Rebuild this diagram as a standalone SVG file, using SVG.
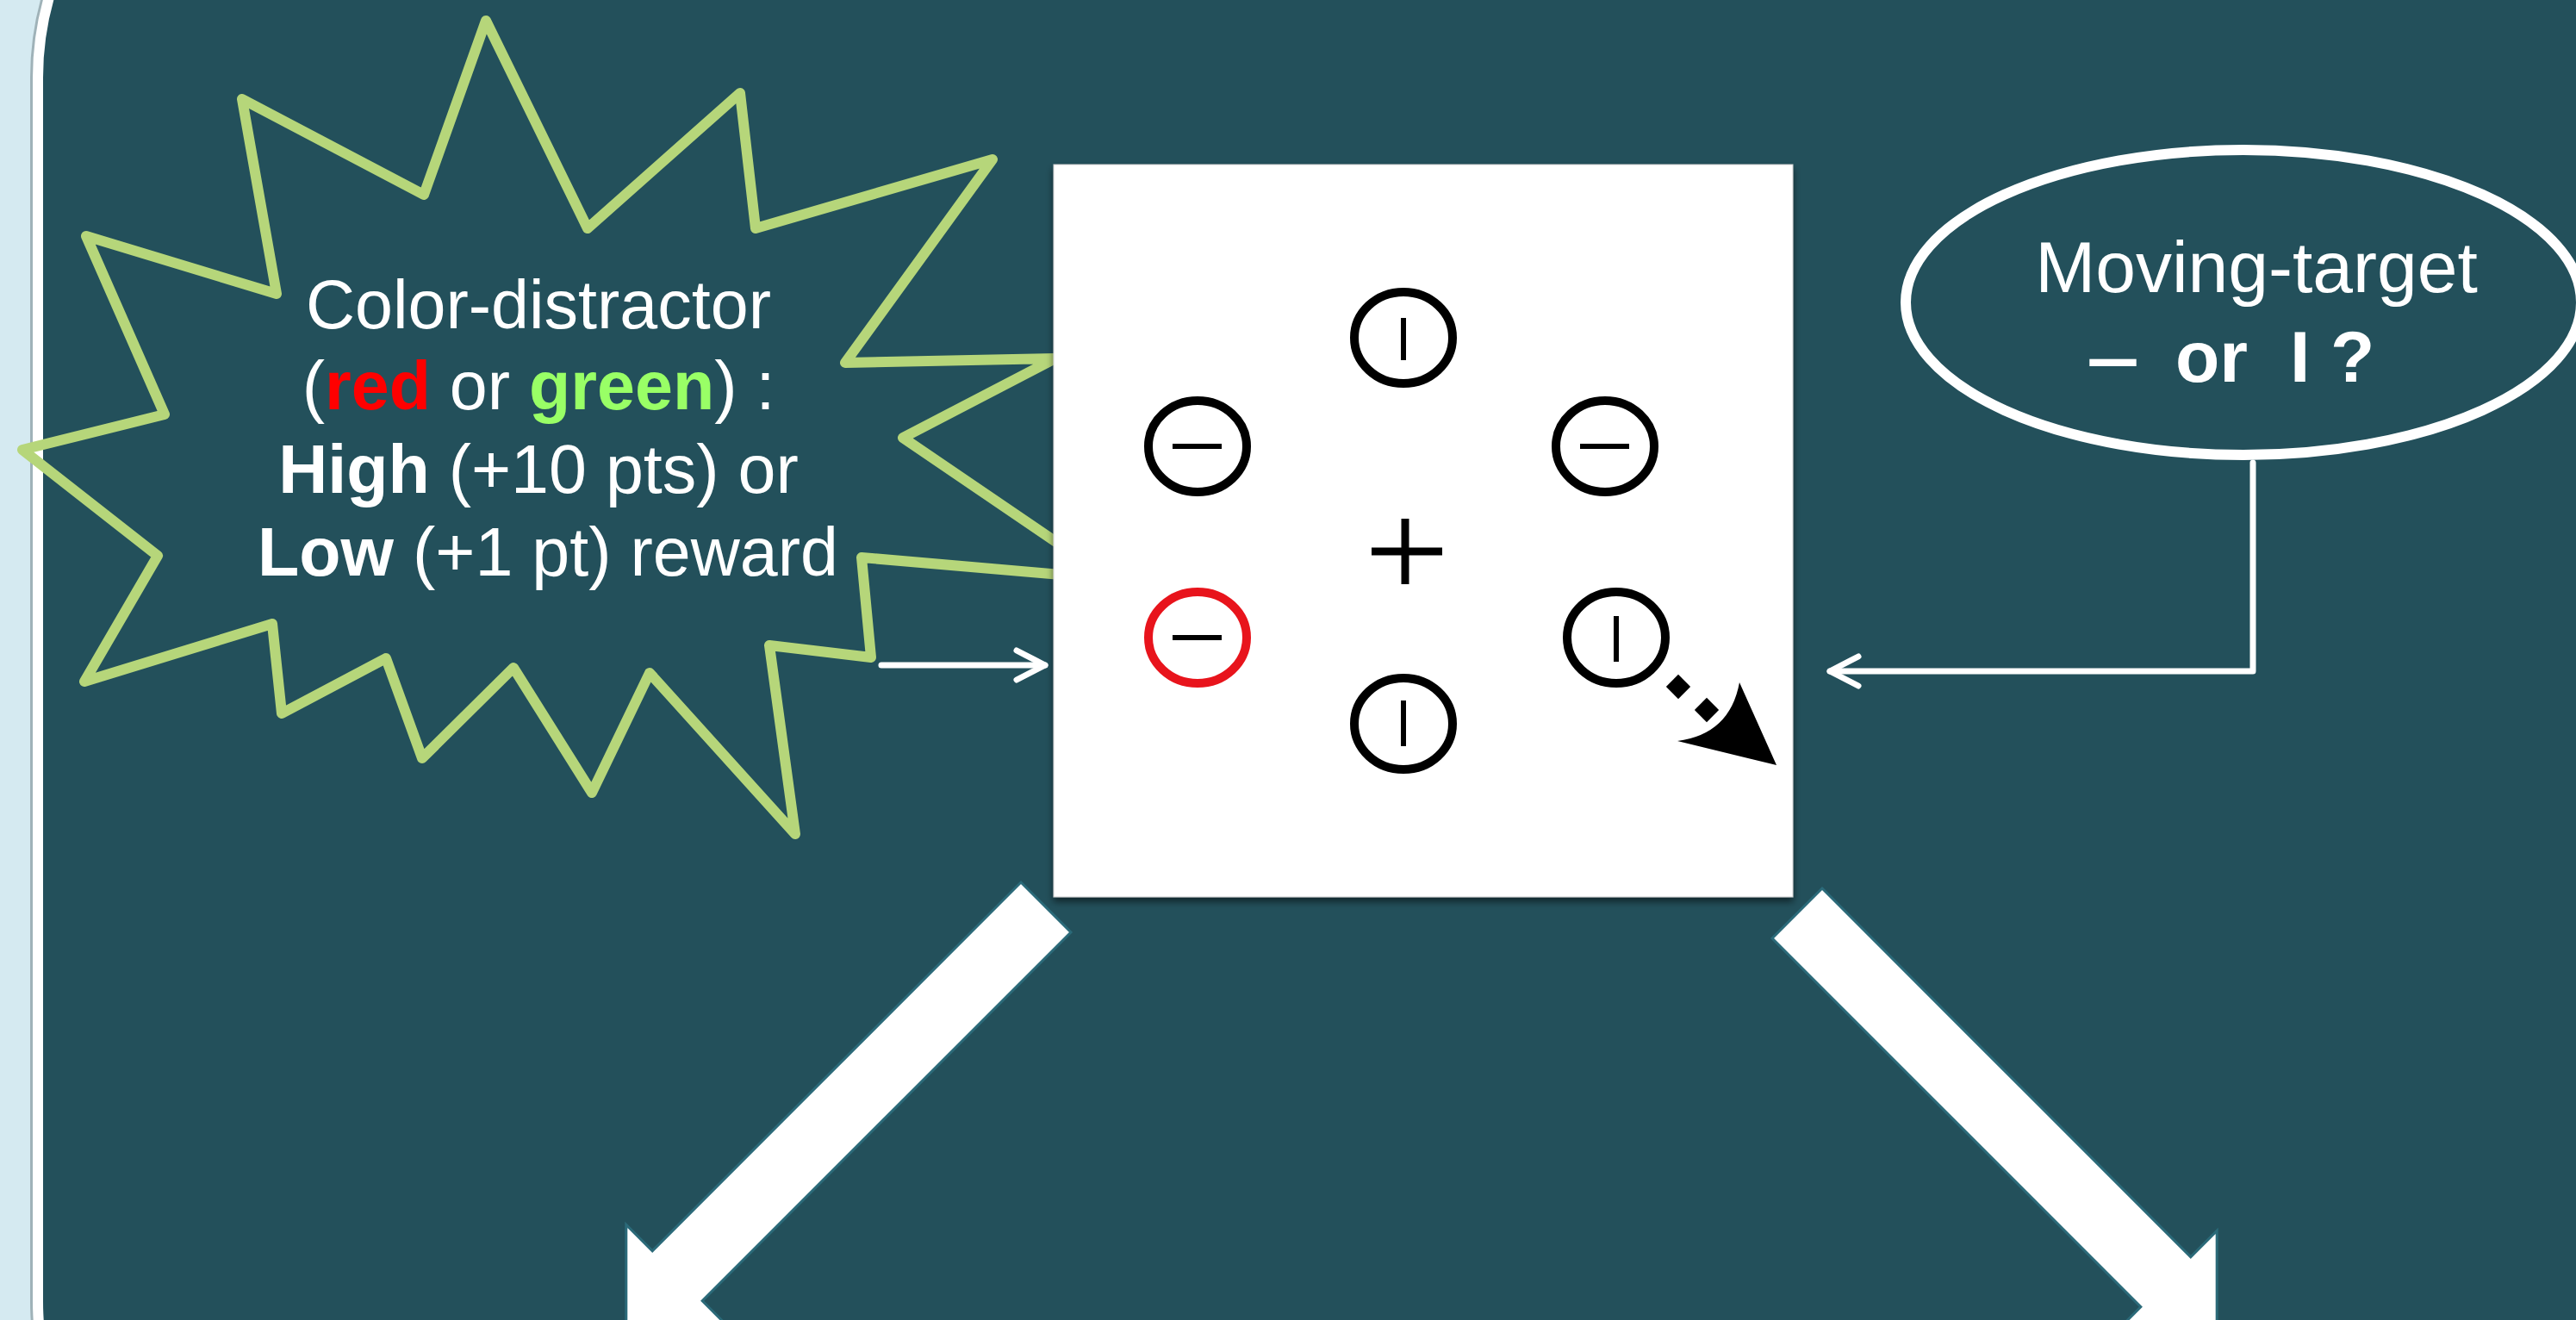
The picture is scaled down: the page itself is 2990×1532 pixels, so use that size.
<svg xmlns="http://www.w3.org/2000/svg" width="2990" height="1532" viewBox="0 0 2990 1532">
<defs>
<style>
.t{font-family:"Liberation Sans",Arial,sans-serif;fill:#ffffff;}
.b{font-weight:bold;}
.ring{fill:none;stroke:#000000;stroke-width:10;}
.red{stroke:#e8141c;}
.bar{stroke:#000;stroke-width:6;}
.thin{fill:none;stroke:#ffffff;stroke-width:7;stroke-linecap:round;stroke-linejoin:round;}
.big{fill:#ffffff;stroke:#2b6a79;stroke-width:3;}
</style>
<marker id="v" markerUnits="userSpaceOnUse" markerWidth="50" markerHeight="50" viewBox="-40 -25 50 50" refX="0" refY="0" orient="auto">
<path d="M-33,-17 L0,0 L-33,17" fill="none" stroke="#fff" stroke-width="7" stroke-linecap="round" stroke-linejoin="round"/>
</marker>
<filter id="sh" x="-5%" y="-5%" width="110%" height="112%">
<feDropShadow dx="0" dy="5" stdDeviation="4" flood-color="#000" flood-opacity="0.55"/>
</filter>
</defs>
<rect x="0" y="0" width="2990" height="1532" fill="#d5eaf1"/>
<rect x="39" y="-250" width="3300" height="2100" rx="340" fill="none" stroke="#9fb2b8" stroke-width="8"/>
<rect x="44" y="-250" width="3300" height="2100" rx="340" fill="#23505b" stroke="#ffffff" stroke-width="12"/>

<g id="distractor">
<polygon points="564,24 682,265 859,108 877,265 1152,185 981,421 1225,416 1048,508 1289,672 1000,647 1011,763 893,749 923,968 754,781 687,920 596,775 490,880 448,764 327,828 316,724 98,791 183,645 26,522 191,481 100,274 321,341 281,115 492,226" fill="none" stroke="#b6d67a" stroke-width="12" stroke-linejoin="round"/>
<text class="t" font-size="79" text-anchor="middle">
<tspan x="636" y="381">Color-distractor</tspan>
<tspan x="636" y="475">(<tspan class="b" fill="#ff0000">red</tspan> or <tspan class="b" fill="#99ff66">green</tspan>) :</tspan>
<tspan x="636" y="572"><tspan class="b">High</tspan> (+10 pts) or</tspan>
<tspan x="636" y="668"><tspan class="b">Low</tspan> (+1 pt) reward</tspan>
</text>
</g>

<g id="display">
<rect x="1223" y="191" width="858" height="850" fill="#ffffff" stroke="#d0d0d0" stroke-width="1" filter="url(#sh)"/>
<ellipse class="ring" cx="1629" cy="392" rx="57" ry="53"/>
<line class="bar" x1="1629" y1="369" x2="1629" y2="418"/>
<ellipse class="ring" cx="1390" cy="518" rx="57" ry="53"/>
<line class="bar" x1="1361" y1="518" x2="1418" y2="518"/>
<ellipse class="ring" cx="1863" cy="518" rx="57" ry="53"/>
<line class="bar" x1="1834" y1="518" x2="1891" y2="518"/>
<line x1="1592" y1="640" x2="1674" y2="640" stroke="#000" stroke-width="9"/>
<line x1="1631" y1="602" x2="1631" y2="678" stroke="#000" stroke-width="9"/>
<ellipse class="ring red" cx="1390" cy="740" rx="57" ry="53"/>
<line class="bar" x1="1361" y1="740" x2="1418" y2="740"/>
<ellipse class="ring" cx="1876" cy="740" rx="57" ry="53"/>
<line class="bar" x1="1876" y1="715" x2="1876" y2="768"/>
<ellipse class="ring" cx="1629" cy="840" rx="57" ry="53"/>
<line class="bar" x1="1629" y1="813" x2="1629" y2="866"/>
<rect x="1938" y="787" width="20" height="20" transform="rotate(45 1948 797)" fill="#000"/>
<rect x="1971" y="814" width="20" height="20" transform="rotate(45 1981 824)" fill="#000"/>
<path d="M2019,792 L2062,888 L1947,860 Q2008,852 2019,792 Z" fill="#000"/>
</g>

<g id="target">
<ellipse cx="2604" cy="351" rx="392" ry="177" fill="#23505b" stroke="#ffffff" stroke-width="12"/>
<text class="t" font-size="84" x="2619" y="339" text-anchor="middle">Moving-target</text>
<text class="t b" font-size="84" y="443"><tspan x="2422" textLength="61" lengthAdjust="spacingAndGlyphs">–</tspan><tspan x="2525">or</tspan><tspan x="2658">I</tspan><tspan x="2705">?</tspan></text>
</g>

<g id="connectors">
<line class="thin" x1="1023" y1="772" x2="1213" y2="772" marker-end="url(#v)"/>
<polyline class="thin" points="2615,537 2615,779 2124,779" marker-end="url(#v)"/>
<polygon class="big" points="0,-41 605,-41 605,-84 689,0 605,84 605,41 0,41" transform="translate(1214,1053) rotate(135)"/>
<polygon class="big" points="0,-41 605,-41 605,-84 689,0 605,84 605,41 0,41" transform="translate(2086,1060) rotate(45)"/>
</g>
</svg>
